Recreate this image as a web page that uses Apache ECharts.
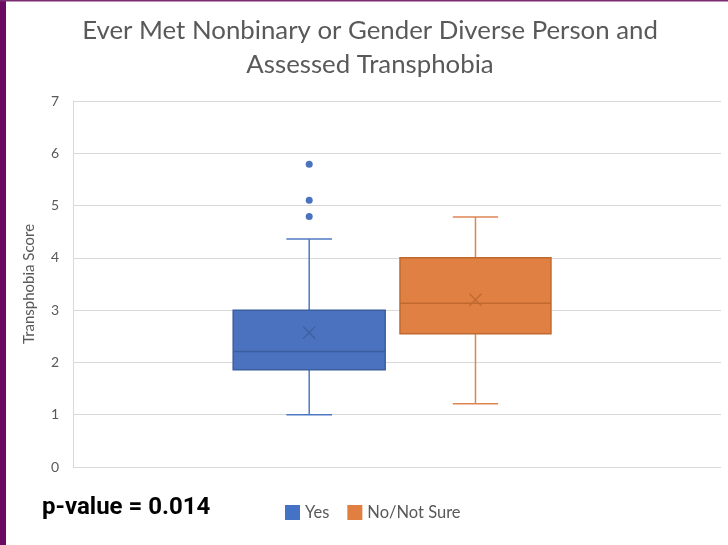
<!DOCTYPE html>
<html lang="en">
<head>
  <meta charset="UTF-8">
  <title>Ever Met Nonbinary or Gender Diverse Person and Assessed Transphobia</title>
  <script src="https://cdn.jsdelivr.net/npm/echarts@6.0.0/dist/echarts.min.js"></script>
  <style>
    html, body { margin: 0; padding: 0; background: #fff; }
    #chart { width: 728px; height: 545px; }
  </style>
</head>
<body>
  <div id="chart"></div>
  <script>
    // data
    var seriesNames = ['Yes', 'No/Not Sure'];
    // [min, q1, median, q3, max]
    var yesStats = [1.0, 1.86, 2.21, 3.0, 4.36];
    var yesMean = 2.57;
    var yesOutliers = [4.79, 5.10, 5.79];
    var notSureStats = [1.21, 2.55, 3.13, 4.0, 4.78];
    var notSureMean = 3.20;
    var notSureOutliers = [];
    var yTicks = [0, 1, 2, 3, 4, 5, 6, 7];

    var FONT = 'Lato, "Open Sans", sans-serif';

    function boxRenderer(offset, widthFrac, outliers, c) {
      return function (params, api) {
        var band = api.size([1, 0])[0];
        var cx = api.coord([api.value(0), 0])[0] + offset * band;
        var w = widthFrac * band;
        var capW = w * 0.3;
        var y = function (dim) { return api.coord([api.value(0), api.value(dim)])[1]; };
        var yMin = y(1), yQ1 = y(2), yMed = y(3), yQ3 = y(4), yMax = y(5), yMean = y(6);
        var wh = { stroke: c.whisker, lineWidth: 1.5 };
        var children = [
          { type: 'line', shape: { x1: cx, y1: yMax, x2: cx, y2: yQ3 }, style: wh },
          { type: 'line', shape: { x1: cx, y1: yQ1, x2: cx, y2: yMin }, style: wh },
          { type: 'line', shape: { x1: cx - capW / 2, y1: yMax, x2: cx + capW / 2, y2: yMax }, style: wh },
          { type: 'line', shape: { x1: cx - capW / 2, y1: yMin, x2: cx + capW / 2, y2: yMin }, style: wh },
          { type: 'rect', shape: { x: cx - w / 2, y: yQ3, width: w, height: yQ1 - yQ3 },
            style: { fill: c.fill, stroke: c.border, lineWidth: 1.5 } },
          { type: 'line', shape: { x1: cx - w / 2, y1: yMed, x2: cx + w / 2, y2: yMed },
            style: { stroke: c.border, lineWidth: 1.5 } },
          { type: 'line', shape: { x1: cx - 6, y1: yMean - 6, x2: cx + 6, y2: yMean + 6 },
            style: { stroke: c.border, lineWidth: 1.3 } },
          { type: 'line', shape: { x1: cx - 6, y1: yMean + 6, x2: cx + 6, y2: yMean - 6 },
            style: { stroke: c.border, lineWidth: 1.3 } }
        ];
        outliers.forEach(function (v) {
          var p = api.coord([api.value(0), v]);
          children.push({ type: 'circle', shape: { cx: cx, cy: p[1], r: 3.5 }, style: { fill: c.fill } });
        });
        return { type: 'group', children: children };
      };
    }

    var chart = echarts.init(document.getElementById('chart'));
    chart.setOption({
      animation: false,
      backgroundColor: '#fff',
      title: {
        text: 'Ever Met Nonbinary or Gender Diverse Person and\nAssessed Transphobia',
        left: 365,
        top: 9,
        textAlign: 'center',
        textStyle: { fontFamily: FONT, fontSize: 25.8, fontWeight: 'normal', color: '#595959', lineHeight: 34 }
      },
      legend: {
        data: [{ name: seriesNames[0], icon: 'rect' }, { name: seriesNames[1], icon: 'rect' }],
        left: 280,
        top: 499,
        itemWidth: 15,
        itemHeight: 15,
        itemGap: 18,
        textStyle: { fontFamily: FONT, fontSize: 16.5, color: '#595959' }
      },
      grid: { left: 73, right: 7, top: 101, bottom: 78 },
      xAxis: {
        type: 'category',
        data: [''],
        axisLine: { show: false },
        axisTick: { show: false },
        axisLabel: { show: false }
      },
      yAxis: {
        type: 'value',
        min: yTicks[0],
        max: yTicks[yTicks.length - 1],
        interval: 1,
        name: 'Transphobia Score',
        nameLocation: 'middle',
        nameRotate: 90,
        nameGap: 36,
        nameTextStyle: { fontFamily: FONT, fontSize: 15, color: '#595959' },
        axisLine: { show: true, lineStyle: { color: '#d9d9d9', width: 1 } },
        axisTick: { show: false },
        axisLabel: { fontFamily: FONT, fontSize: 14, color: '#595959', margin: 14 },
        splitLine: { lineStyle: { color: '#d9d9d9', width: 1 } }
      },
      series: [
        {
          name: seriesNames[0],
          type: 'custom',
          itemStyle: { color: '#4472c4' },
          encode: { x: 0, y: [1, 2, 3, 4, 5, 6] },
          data: [[0].concat(yesStats, [yesMean])],
          renderItem: boxRenderer(-0.1355, 0.2346, yesOutliers,
            { fill: '#4a72bf', border: '#3b5f9e', whisker: '#4f78c2' })
        },
        {
          name: seriesNames[1],
          type: 'custom',
          itemStyle: { color: '#e07f40' },
          encode: { x: 0, y: [1, 2, 3, 4, 5, 6] },
          data: [[0].concat(notSureStats, [notSureMean])],
          renderItem: boxRenderer(0.1211, 0.233, notSureOutliers,
            { fill: '#e08043', border: '#c0692f', whisker: '#dd8652' })
        }
      ],
      graphic: [
        { type: 'rect', left: 0, top: 0, shape: { width: 6, height: 545 }, style: { fill: '#6b0a63' } },
        { type: 'rect', left: 0, top: 0, shape: { width: 728, height: 1.5 }, style: { fill: '#7b2a73' } },
        {
          type: 'text', left: 42, top: 496,
          style: { text: 'p-value = 0.014', fontFamily: 'Roboto', fontWeight: 'bold', fontSize: 24, fill: '#000' }
        }
      ]
    });
  </script>
</body>
</html>
